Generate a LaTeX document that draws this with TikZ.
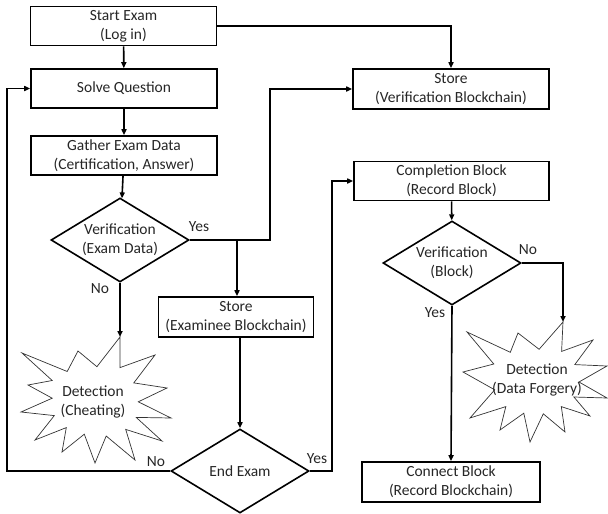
\documentclass[tikz,border=0pt]{standalone}
\usepackage{fontspec}
\setmainfont{Carlito}
\usetikzlibrary{arrows.meta,shapes.geometric}

\begin{document}
\begin{tikzpicture}[x=1pt, y=-1pt,
	font=\fontsize{15.5}{19}\selectfont, text=black!85,
	box/.style={draw, line width=1.6pt, align=center, inner sep=0pt, minimum height=39pt},
	decide/.style={draw, diamond, line width=1.6pt, align=center, inner sep=0pt, aspect=1.64, minimum width=138pt, minimum height=84pt},
	burst/.style={draw=black!80, line width=0.7pt, line join=miter},
	flow/.style={line width=1.6pt, -{Triangle[length=6pt, width=5pt]}},
	tag/.style={inner sep=1pt}]
	\useasboundingbox (0,0) rectangle (608,514);

	%--- exam side
	\node[box, minimum width=186pt] (start) at (123.5,26) {Start Exam\\(Log in)};
	\node[box, minimum width=186pt] (solve) at (124,88.5) {Solve Question};
	\node[box, minimum width=186pt] (gather) at (124,155.5) {Gather Exam Data\\(Certification, Answer)};
	\node[decide] (verEx) at (120,240) {Verification\\(Exam Data)};
	\node[box, minimum width=155pt, minimum height=40pt] (storeE) at (236,317) {Store\\(Examinee Blockchain)};
	\node[decide] (endEx) at (240,471) {End Exam};

	%--- cheating burst
	\draw[burst] (120,337) -- (120,367.6) -- (155,355) -- (133.8,382.9) -- (167,388) -- (138.3,401.8)
		-- (171,418) -- (136.2,417.4) -- (162,441) -- (125.7,429.4) -- (135,460) -- (106.2,436)
		-- (95,463) -- (84.3,434.2) -- (62,452) -- (66.3,427.6) -- (35,440) -- (54.3,415.6)
		-- (21,412) -- (52.2,398.2) -- (28,385) -- (52.2,380.5) -- (22,353) -- (67.2,371.5)
		-- (78,351) -- (96.9,366.7) -- cycle;
	\node[align=center] (cheat) at (93,402) {Detection\\(Cheating)};
	\coordinate (cheatTop) at (120,337);

	%--- blockchain side
	\node[box, minimum width=196pt, minimum height=40pt] (storeV) at (451,89) {Store\\(Verification Blockchain)};
	\node[box, minimum width=195pt] (compl) at (451.5,181) {Completion Block\\(Record Block)};
	\node[decide] (verBl) at (452,263) {Verification\\(Block)};
	\node[box, minimum width=178pt, minimum height=40pt] (connect) at (451,482) {Connect Block\\(Record Blockchain)};

	%--- forgery burst
	\draw[burst] (563,322) -- (561.6,351.4) -- (593,340) -- (574.8,364.6) -- (607,366) -- (579,382)
		-- (607,398) -- (573.9,397) -- (590,416) -- (561.3,406.6) -- (565,432) -- (543.3,413.8)
		-- (530,442) -- (523.8,413.2) -- (500,430) -- (505.8,406.6) -- (470,418) -- (494.7,389.8)
		-- (463,372) -- (493.8,364) -- (467,332) -- (510.3,352.3) -- (518,333) -- (539.1,349.3) -- cycle;
	\node[align=center] (forg) at (537,380) {Detection\\(Data Forgery)};
	\coordinate (forgTop) at (563,322);

	\coordinate (split) at (237,240);
	\coordinate (bendV) at (270,240);
	\coordinate (loopL) at (7,471);
	\coordinate (loopR) at (332,471);

	%--- connectors
	\draw[flow] (start) -- (solve);
	\draw[flow] (solve) -- (gather);
	\draw[flow] (gather) -- (verEx);
	\draw[flow] (start.east) -| (storeV.north);
	\draw[flow] (verEx.east) -- (bendV) |- (storeV.west);
	\draw[flow] (split) -- (split |- storeE.north);
	\draw[flow] (verEx.south) -- (cheatTop);
	\draw[flow] (endEx.north |- storeE.south) -- (endEx.north);
	\draw[flow] (endEx.west) -- (loopL) |- (solve.west);
	\draw[flow] (endEx.east) -- (loopR) |- (compl.west);
	\draw[flow] (compl) -- (verBl);
	\draw[flow] (verBl.east) -| (forgTop);
	\draw[flow] (verBl.south) -- (connect.north);

	%--- answers
	\node[tag] (yesEx) at (199,227) {Yes};
	\node[tag] (noEx) at (100,289) {No};
	\node[tag] (noEnd) at (156,462) {No};
	\node[tag] (yesEnd) at (317,459) {Yes};
	\node[tag] (noBl) at (528,250) {No};
	\node[tag] (yesBl) at (435,313) {Yes};
\end{tikzpicture}
\end{document}
